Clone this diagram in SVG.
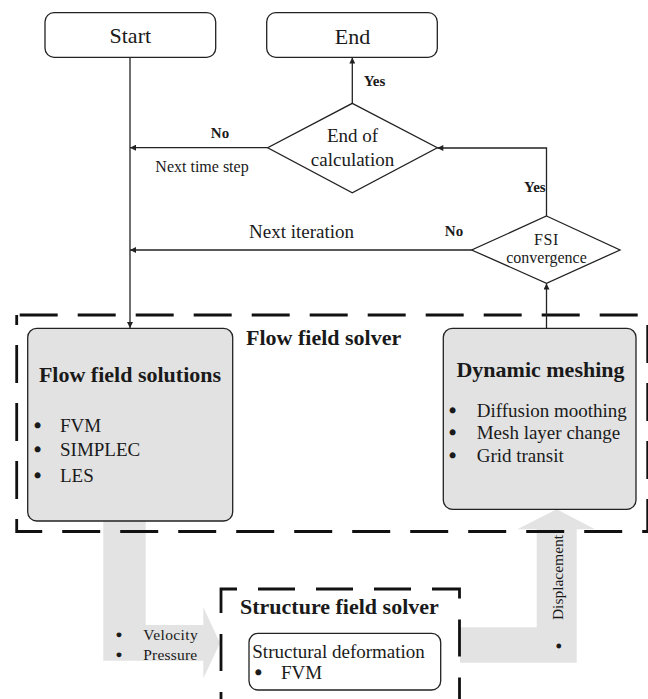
<svg xmlns="http://www.w3.org/2000/svg" width="648" height="699" viewBox="0 0 648 699">
<style>
text{font-family:"Liberation Serif","Times New Roman",serif;fill:#1a1a1a}
.t22{font-size:22px}
.b22{font-size:22px;font-weight:bold}
.t19{font-size:19px}
.t16{font-size:16px}
.b15{font-size:15px;font-weight:bold}
.t15{font-size:15.5px}
.bul{font-size:19px;text-anchor:middle;stroke:#1a1a1a;stroke-width:1.5}
.bs{font-size:15.5px;text-anchor:middle;stroke:#1a1a1a;stroke-width:1.2}
.term{fill:#fff;stroke:#222;stroke-width:1.3}
.proc{fill:#e2e2e2;stroke:#222;stroke-width:1.3}
.dia{fill:#fff;stroke:#222;stroke-width:1.3}
.conn{fill:none;stroke:#222;stroke-width:1.3;marker-end:url(#ah)}
.dash{fill:none;stroke:#111;stroke-width:2.8;stroke-dasharray:38 20}
.big{fill:#e3e3e3;stroke:none}
</style>
<defs>
<marker id="ah" viewBox="0 0 10 10" refX="10" refY="5" markerWidth="8.5" markerHeight="6" markerUnits="userSpaceOnUse" orient="auto">
<path d="M0,0 L10,5 L0,10 z" fill="#222"/>
</marker>
</defs>

<!-- big gray data arrows -->
<g id="arrow-velocity">
<polygon class="big" points="103.3,521 145.7,521 145.7,625 203.3,625 203.3,607.3 220,643 203.3,678.3 203.3,660.7 103.3,660.7"/>
<text class="bs" x="119" y="640">•</text>
<text class="t15" x="143.3" y="640" letter-spacing="0.4">Velocity</text>
<text class="bs" x="119" y="659.5">•</text>
<text class="t15" x="143.3" y="659.5" letter-spacing="0.2">Pressure</text>
</g>
<g id="arrow-displacement">
<polygon class="big" points="460,627.3 536.7,627.3 536.7,529.3 517.3,529.3 556.7,509.3 595,529.3 576.7,529.3 576.7,662.7 460,662.7"/>
<text class="t15" transform="translate(562.5,577.5) rotate(-90)" text-anchor="middle">Displacement</text>
<text class="bs" transform="translate(564,646) rotate(-90)">•</text>
</g>

<!-- solver groups (dashed) -->
<g id="flow-field-solver">
<rect class="dash" x="16.7" y="315" width="631" height="216.5" stroke-dashoffset="-3"/>
<text class="b22" x="246" y="345">Flow field solver</text>
</g>
<g id="structure-field-solver">
<rect class="dash" x="221" y="589" width="238.5" height="140" style="stroke-dasharray:37 21" stroke-dashoffset="21"/>
<text class="b22" x="240" y="614">Structure field solver</text>
</g>

<!-- connectors -->
<g id="connectors">
<line class="conn" x1="130" y1="57.3" x2="130" y2="328"/>
<line class="conn" x1="352.3" y1="103.3" x2="352.3" y2="57.5"/>
<line class="conn" x1="267.7" y1="147.7" x2="130" y2="147.7"/>
<path class="conn" d="M546.5,216 V148 H437.3"/>
<line class="conn" x1="471.7" y1="250" x2="130" y2="250"/>
<line class="conn" x1="546.5" y1="328.3" x2="546.5" y2="283.5"/>
<text class="b15" x="220" y="138.3" text-anchor="middle">No</text>
<text class="t16" x="202" y="171.7" text-anchor="middle">Next time step</text>
<text class="b15" x="374.5" y="85.7" text-anchor="middle">Yes</text>
<text class="b15" x="545.7" y="191.7" text-anchor="end">Yes</text>
<text class="b15" x="454" y="236" text-anchor="middle">No</text>
<text class="t19" x="301.5" y="238.3" text-anchor="middle">Next iteration</text>
</g>

<!-- nodes -->
<g id="start">
<rect class="term" x="45" y="12.7" width="170.7" height="44.6" rx="9"/>
<text class="t22" x="130.3" y="42.8" text-anchor="middle">Start</text>
</g>
<g id="end">
<rect class="term" x="266.7" y="12.7" width="170.6" height="44.6" rx="9"/>
<text class="t22" x="352.5" y="43.8" text-anchor="middle">End</text>
</g>
<g id="end-of-calculation">
<polygon class="dia" points="352.3,103.3 437.3,147.7 352.3,192.7 267.7,147.7"/>
<text class="t19" x="352.5" y="142.3" text-anchor="middle">End of</text>
<text class="t19" x="352.5" y="165.7" text-anchor="middle">calculation</text>
</g>
<g id="fsi-convergence">
<polygon class="dia" points="546.5,216 620,250 546.5,283.3 471.7,250"/>
<text class="t16" x="546.5" y="245" text-anchor="middle" letter-spacing="0.6">FSI</text>
<text class="t16" x="546.5" y="262.7" text-anchor="middle">convergence</text>
</g>
<g id="flow-field-solutions">
<rect class="proc" x="27.7" y="328.3" width="205" height="192.7" rx="9"/>
<text class="b22" x="130" y="381.7" text-anchor="middle">Flow field solutions</text>
<text class="bul" x="37.5" y="432.3">•</text>
<text class="t19" x="60" y="432.3">FVM</text>
<text class="bul" x="37.5" y="456">•</text>
<text class="t19" x="60" y="456">SIMPLEC</text>
<text class="bul" x="37.5" y="481.7">•</text>
<text class="t19" x="60" y="481.7">LES</text>
</g>
<g id="dynamic-meshing">
<rect class="proc" x="443.3" y="328.3" width="192.7" height="181" rx="9"/>
<text class="b22" x="540.5" y="377" text-anchor="middle">Dynamic meshing</text>
<text class="bul" x="452.7" y="416.5">•</text>
<text class="t19" x="476.7" y="416.5">Diffusion moothing</text>
<text class="bul" x="452.7" y="439">•</text>
<text class="t19" x="476.7" y="439">Mesh layer change</text>
<text class="bul" x="452.7" y="461.7">•</text>
<text class="t19" x="476.7" y="461.7">Grid transit</text>
</g>
<g id="structural-deformation">
<rect class="term" x="249" y="633.3" width="191.7" height="56.7" rx="9"/>
<text class="t19" x="252.3" y="657.7">Structural deformation</text>
<text class="bul" x="258.3" y="679.3">•</text>
<text class="t19" x="281" y="679.3">FVM</text>
</g>
</svg>
